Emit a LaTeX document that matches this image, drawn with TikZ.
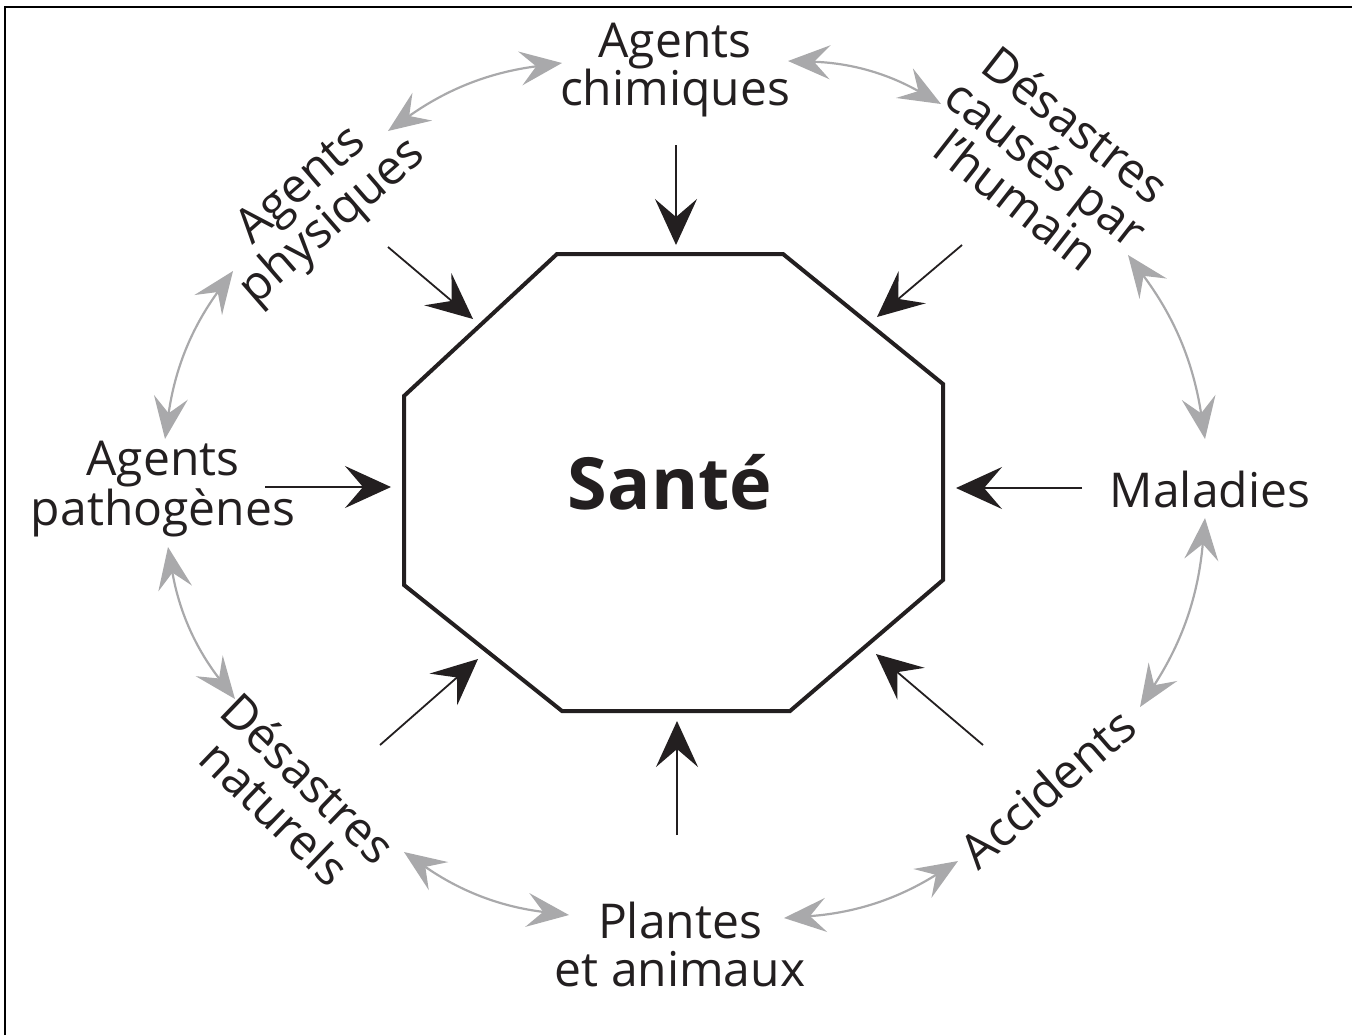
\documentclass[tikz,border=0pt]{standalone}
\usepackage{fontspec}
\setmainfont{Open Sans}
\usetikzlibrary{arrows.meta}
\definecolor{ink}{HTML}{231F20}
\definecolor{arrgrey}{HTML}{A9A9AB}
\begin{document}
\begin{tikzpicture}[x=0.5pt,y=-0.5pt,
  lbl/.style={text=ink,align=center,inner sep=0pt,font=\fontsize{24}{24}\selectfont},
  blackarr/.style={draw=ink,line width=0.9pt,-{Stealth[length=23pt,width=21pt,inset=9pt]}},
  greyarr/.style={draw=arrgrey,line width=1.1pt,{Stealth[length=21pt,width=17pt,inset=8pt]}-{Stealth[length=21pt,width=17pt,inset=8pt]}},
  octa/.style={draw=ink,line width=2pt,line join=miter}]
\useasboundingbox (0,0) rectangle (1352,1035);
% frame
\draw[line width=1.1pt,black] (5,1035) -- (5,7) -- (1352,7);
% octagon
\coordinate (o1) at (557,254);
\coordinate (o2) at (783,254);
\coordinate (o3) at (943,384);
\coordinate (o4) at (943,580);
\coordinate (o5) at (790,711);
\coordinate (o6) at (562,711);
\coordinate (o7) at (404,585);
\coordinate (o8) at (404,396);
\draw[octa] (o1) -- (o2) -- (o3) -- (o4) -- (o5) -- (o6) -- (o7) -- (o8) -- cycle;
\node[text=ink,font=\bfseries\fontsize{36}{36}\selectfont,inner sep=0pt] (sante) at (670,482) {Santé};
% labels
\node[lbl] (chim) at (675,70) {Agents\\chimiques};
\node[lbl,rotate=41] (phys) at (318,205) {Agents\\physiques};
\node[lbl,rotate=-38] (hum) at (1047,162) {Désastres\\causés par\\l’humain};
\node[lbl] (path) at (163,489) {Agents\\pathogènes};
\node[lbl] (mal) at (1210,489) {Maladies};
\node[lbl,rotate=-44] (nat) at (292,795) {Désastres\\naturels};
\node[lbl] (plan) at (680,944) {Plantes\\et animaux};
\node[lbl,rotate=41] (acc) at (1047,788) {Accidents};
% black arrows
\coordinate (a1s) at (676,145); \coordinate (a1e) at (676,245);
\coordinate (a2s) at (388,247); \coordinate (a2e) at (473,319);
\coordinate (a3s) at (962,245); \coordinate (a3e) at (877,317);
\coordinate (a4s) at (265,487); \coordinate (a4e) at (391,487);
\coordinate (a5s) at (1082,488); \coordinate (a5e) at (956,488);
\coordinate (a6s) at (380,745); \coordinate (a6e) at (478,659);
\coordinate (a7s) at (677,835); \coordinate (a7e) at (677,721);
\coordinate (a8s) at (983,745); \coordinate (a8e) at (876,654);
\foreach \i in {1,...,8} \draw[blackarr] (a\i s) -- (a\i e);
% grey arrows (clockwise)
\coordinate (g1s) at (388,131); \coordinate (g1e) at (562,63);
\coordinate (g2s) at (788,61); \coordinate (g2e) at (941,104);
\coordinate (g3s) at (1128,255); \coordinate (g3e) at (1205,439);
\coordinate (g4s) at (1205,518); \coordinate (g4e) at (1140,707);
\coordinate (g5s) at (958,861); \coordinate (g5e) at (784,918);
\coordinate (g6s) at (569,915); \coordinate (g6e) at (404,852);
\coordinate (g7s) at (235,699); \coordinate (g7e) at (168,547);
\coordinate (g8s) at (165,439); \coordinate (g8e) at (233,271);
\foreach \i in {1,...,8} \draw[greyarr] (g\i s) to[bend left=14] (g\i e);
\end{tikzpicture}
\end{document}
